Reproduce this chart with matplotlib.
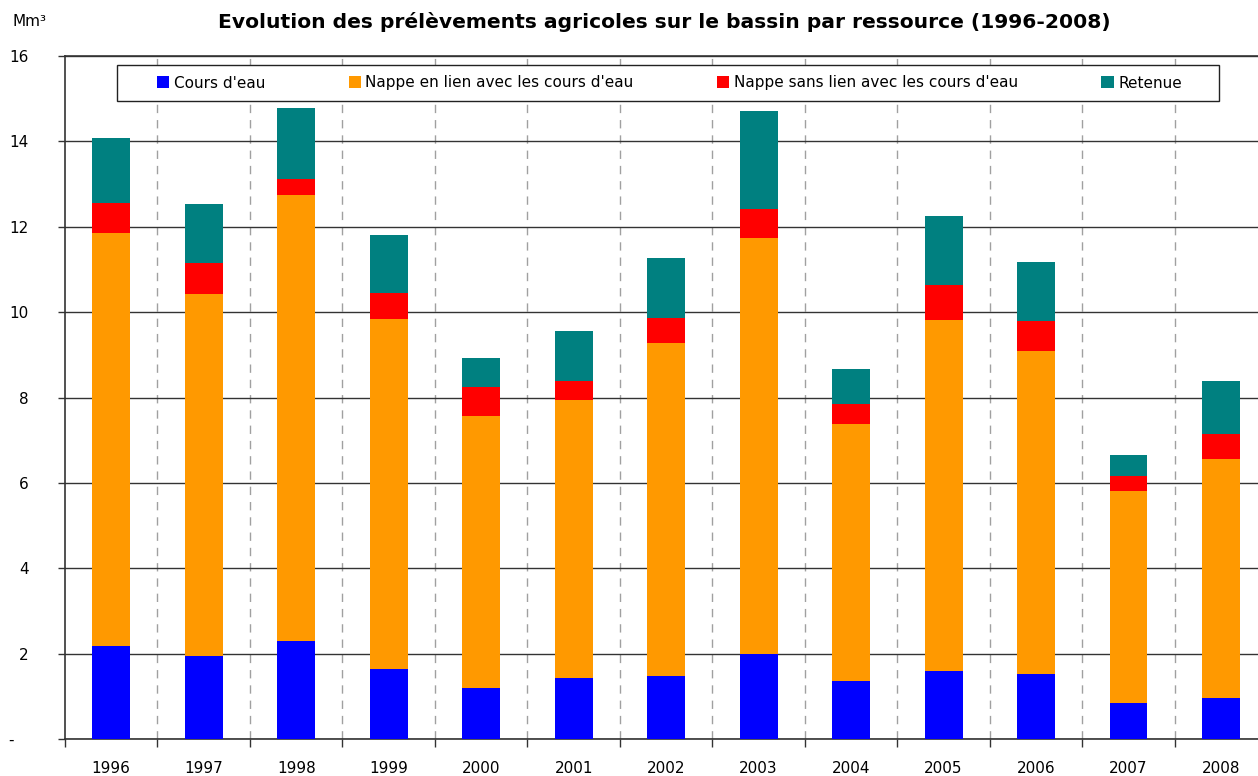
import matplotlib.pyplot as plt
import numpy as np
from matplotlib.patches import Rectangle

years = ["1996", "1997", "1998", "1999", "2000", "2001", "2002",
         "2003", "2004", "2005", "2006", "2007", "2008"]

# segment values (Mm3)
cours_eau = [2.18, 1.94, 2.30, 1.64, 1.19, 1.43, 1.48, 1.99, 1.36, 1.59, 1.52, 0.84, 0.96]
nappe_lien = [9.67, 8.48, 10.44, 8.20, 6.38, 6.51, 7.80, 9.75, 6.02, 8.22, 7.57, 4.97, 5.60]
nappe_sans = [0.71, 0.73, 0.38, 0.61, 0.68, 0.45, 0.58, 0.68, 0.47, 0.82, 0.70, 0.35, 0.58]
retenue = [1.52, 1.38, 1.66, 1.36, 0.68, 1.17, 1.41, 2.29, 0.82, 1.62, 1.38, 0.49, 1.25]

labels = ["Cours d'eau", "Nappe en lien avec les cours d'eau",
          "Nappe sans lien avec les cours d'eau", "Retenue"]
colors = ["#0000FF", "#FF9900", "#FF0000", "#008080"]

plt.rcParams['font.family'] = ['DejaVu Sans']

fig = plt.figure(figsize=(12.58, 7.76), dpi=100)
ax = fig.add_axes([65 / 1258, 37 / 776, 1193 / 1258, 683 / 776])

x = np.arange(len(years))
bottom = np.zeros(len(years))
for vals, lab, col in zip([cours_eau, nappe_lien, nappe_sans, retenue], labels, colors):
    ax.bar(x, vals, width=0.41, bottom=bottom, color=col, label=lab, zorder=3)
    bottom += np.array(vals)

ax.set_xlim(-0.5, 12.4)
ax.set_ylim(0, 16)

# y axis
yt = np.arange(0, 17, 2)
ax.set_yticks(yt)
ax.set_yticklabels(["-   "] + [str(v) for v in yt[1:]], fontsize=11)
ax.tick_params(axis='y', length=5, width=1, pad=21, color="#333333")
ax.yaxis.grid(True, color="#333333", linewidth=1, zorder=1)

# x axis: ticks at boundaries, labels at centres
ax.set_xticks(np.arange(-0.5, 12.5, 1))
ax.set_xticklabels([])
ax.tick_params(axis='x', which='major', length=6, width=1, color="#333333")
ax.set_xticks(x, minor=True)
ax.set_xticklabels(years, minor=True, fontsize=11)
ax.tick_params(axis='x', which='minor', length=0, pad=16)
for b in np.arange(0.5, 12.5, 1):
    ax.axvline(b, color="#a0a0a0", linestyle=(0, (6, 5)), linewidth=1, zorder=1)

ax.spines["right"].set_visible(False)
for s in ["left", "bottom", "top"]:
    ax.spines[s].set_color("#333333")
    ax.spines[s].set_linewidth(1.2)

# legend box
x0, x1 = (117 - 65) / 1193, (1219 - 65) / 1193
y0, y1 = (739 - 101) / 683, (739 - 65) / 683
ax.add_patch(Rectangle((x0, y0), x1 - x0, y1 - y0, transform=ax.transAxes,
                       facecolor="white", edgecolor="#222222", linewidth=1, zorder=4))
leg = ax.legend(loc="center", ncol=4, mode="expand", frameon=False, fontsize=11,
                bbox_to_anchor=((157 - 65) / 1193, y0, (1182 - 157) / 1193, y1 - y0),
                handlelength=0.8, handleheight=0.8, handletextpad=0.3,
                borderpad=0, borderaxespad=0)
leg.set_zorder(5)

fig.text(664 / 1258, 1 - 22 / 776, "Evolution des prélèvements agricoles sur le bassin par ressource (1996-2008)",
         ha="center", va="center", fontsize=14.6, fontweight="bold")
fig.text(12 / 1258, 1 - 22 / 776, "Mm³", ha="left", va="center", fontsize=11)

fig.savefig("out.png", dpi=100)
